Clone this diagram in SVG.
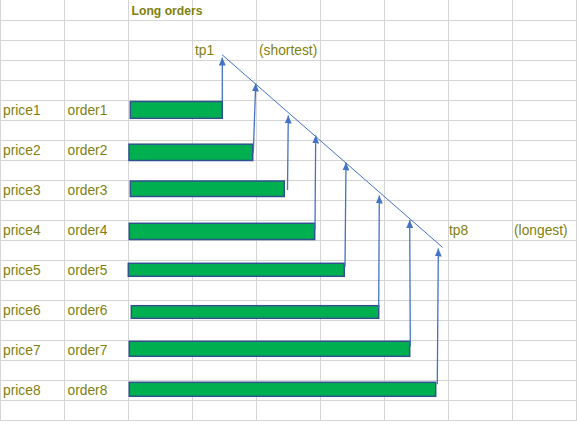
<svg xmlns="http://www.w3.org/2000/svg" width="577" height="428" viewBox="0 0 577 428">
<style>
.grid line{stroke:#d4d4d4;stroke-width:1}
.t{font-family:"Liberation Sans",Arial,sans-serif;font-size:13.8px;fill:#7f7f10}
.b{font-weight:bold;font-size:12.2px}
.bar{fill:#00b050;stroke:#2f528f;stroke-width:1.5}
.arr{stroke:#4472c4;stroke-width:1.3;fill:none;marker-end:url(#ah)}
.diag{stroke:#4472c4;stroke-width:1;fill:none}
</style>
<defs>
<marker id="ah" viewBox="0 0 8 7" refX="8" refY="3.5" markerWidth="8" markerHeight="7" orient="auto" markerUnits="userSpaceOnUse">
<path d="M0,0 L8,3.5 L0,7 z" fill="#4472c4"/>
</marker>
</defs>
<rect x="0" y="0" width="577" height="428" fill="#ffffff"/>
<g class="grid">
<line x1="0.5" y1="0" x2="0.5" y2="420"/>
<line x1="64.5" y1="0" x2="64.5" y2="420"/>
<line x1="128.5" y1="0" x2="128.5" y2="420"/>
<line x1="192.5" y1="0" x2="192.5" y2="420"/>
<line x1="256.5" y1="0" x2="256.5" y2="420"/>
<line x1="320.5" y1="0" x2="320.5" y2="420"/>
<line x1="384.5" y1="0" x2="384.5" y2="420"/>
<line x1="448.5" y1="0" x2="448.5" y2="420"/>
<line x1="512.5" y1="0" x2="512.5" y2="420"/>
<line x1="576.5" y1="0" x2="576.5" y2="420"/>
<line x1="0" y1="20.5" x2="577" y2="20.5"/>
<line x1="0" y1="40.5" x2="577" y2="40.5"/>
<line x1="0" y1="60.5" x2="577" y2="60.5"/>
<line x1="0" y1="80.5" x2="577" y2="80.5"/>
<line x1="0" y1="100.5" x2="577" y2="100.5"/>
<line x1="0" y1="120.5" x2="577" y2="120.5"/>
<line x1="0" y1="140.5" x2="577" y2="140.5"/>
<line x1="0" y1="160.5" x2="577" y2="160.5"/>
<line x1="0" y1="180.5" x2="577" y2="180.5"/>
<line x1="0" y1="200.5" x2="577" y2="200.5"/>
<line x1="0" y1="220.5" x2="577" y2="220.5"/>
<line x1="0" y1="240.5" x2="577" y2="240.5"/>
<line x1="0" y1="260.5" x2="577" y2="260.5"/>
<line x1="0" y1="280.5" x2="577" y2="280.5"/>
<line x1="0" y1="300.5" x2="577" y2="300.5"/>
<line x1="0" y1="320.5" x2="577" y2="320.5"/>
<line x1="0" y1="340.5" x2="577" y2="340.5"/>
<line x1="0" y1="360.5" x2="577" y2="360.5"/>
<line x1="0" y1="380.5" x2="577" y2="380.5"/>
<line x1="0" y1="400.5" x2="577" y2="400.5"/>
<line x1="0" y1="420.5" x2="577" y2="420.5"/>
</g>
<g id="labels">
<text class="t b" x="131.5" y="14.5">Long orders</text>
<text class="t" x="195" y="55">tp1</text>
<text class="t" x="259" y="55">(shortest)</text>
<text class="t" x="449" y="235">tp8</text>
<text class="t" x="514" y="235">(longest)</text>
</g>
<g id="row1"><text class="t" x="3" y="115">price1</text><text class="t" x="67.5" y="115">order1</text><rect class="bar" x="130.3" y="101.5" width="92" height="16.8"/></g>
<g id="row2"><text class="t" x="3" y="155">price2</text><text class="t" x="67.5" y="155">order2</text><rect class="bar" x="129" y="144.2" width="123.7" height="16.3"/></g>
<g id="row3"><text class="t" x="3" y="195">price3</text><text class="t" x="67.5" y="195">order3</text><rect class="bar" x="130.3" y="181" width="154" height="15.5"/></g>
<g id="row4"><text class="t" x="3" y="235">price4</text><text class="t" x="67.5" y="235">order4</text><rect class="bar" x="129.3" y="223.3" width="185.4" height="16.2"/></g>
<g id="row5"><text class="t" x="3" y="275">price5</text><text class="t" x="67.5" y="275">order5</text><rect class="bar" x="128.3" y="263.3" width="216" height="13"/></g>
<g id="row6"><text class="t" x="3" y="315">price6</text><text class="t" x="67.5" y="315">order6</text><rect class="bar" x="131.3" y="305.7" width="247.4" height="12.6"/></g>
<g id="row7"><text class="t" x="3" y="355">price7</text><text class="t" x="67.5" y="355">order7</text><rect class="bar" x="129.3" y="341.3" width="280.4" height="15"/></g>
<g id="row8"><text class="t" x="3" y="395">price8</text><text class="t" x="67.5" y="395">order8</text><rect class="bar" x="129.3" y="382.3" width="306.4" height="14"/></g>
<g id="connectors">
<line class="diag" x1="222" y1="54.7" x2="442.7" y2="247.5"/>
<line class="arr" x1="222.3" y1="101" x2="222.3" y2="57.5"/>
<line class="arr" x1="253.3" y1="153" x2="255.7" y2="83.5"/>
<line class="arr" x1="287.5" y1="190" x2="288.3" y2="115.5"/>
<line class="arr" x1="315" y1="230" x2="315.7" y2="135.5"/>
<line class="arr" x1="345" y1="266.7" x2="346" y2="162.5"/>
<line class="arr" x1="378.7" y1="308" x2="379.3" y2="195.5"/>
<line class="arr" x1="410.3" y1="346.7" x2="409.7" y2="220"/>
<line class="arr" x1="437.3" y1="384.3" x2="438.3" y2="248.5"/>
</g>
</svg>
